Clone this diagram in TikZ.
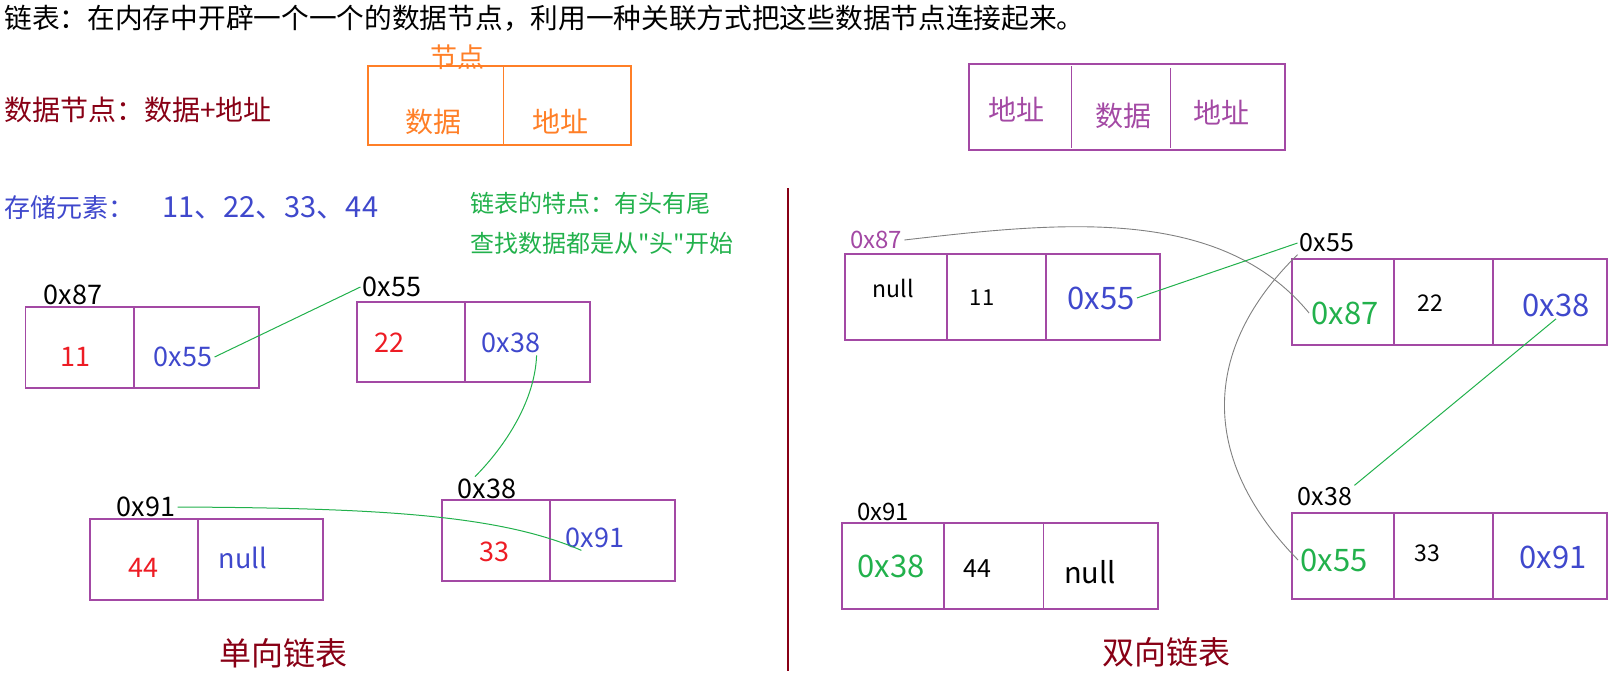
\documentclass[tikz,border=0pt]{standalone}
\usepackage{fontspec}
\setmainfont{Noto Sans CJK SC}[Ligatures=TeXOff]
\usepackage{tikz}
\usetikzlibrary{calc}
\usepackage{xcolor}
\definecolor{mspurple}{RGB}{163,73,164}
\definecolor{msorange}{RGB}{255,127,39}
\definecolor{msred}{RGB}{237,28,36}
\definecolor{msgreen}{RGB}{34,177,76}
\definecolor{msblue}{RGB}{63,72,204}
\definecolor{msdark}{RGB}{136,0,21}
\definecolor{msgray}{RGB}{128,128,128}

\begin{document}
\begin{tikzpicture}[x=0.5pt,y=-0.5pt,
    fs/.style={font=\fontsize{#1}{#1}\selectfont},
    cell/.style={draw=mspurple,line width=0.6pt},
    link/.style={msgreen,line width=0.5pt},
    backlink/.style={msgray,line width=0.45pt},
    lbl/.style={inner sep=1pt}]
    \useasboundingbox (0,0) rectangle (1613,675);
    % headline and legend
    \node[anchor=west,inner sep=0,fs=13.85] (title) at (4,18) {链表：在内存中开辟一个一个的数据节点，利用一种关联方式把这些数据节点连接起来。};
    \node[anchor=west,inner sep=0,fs=14,msdark] (def) at (4,110) {数据节点：数据+地址};
    \draw[msorange,line width=0.6pt] (368,66) rectangle (631,145) (503.6,66) -- (503.6,145);
    \node[msorange,fs=13.5] (nodename) at (457,57) {节点};
    \node[msorange,fs=14] (odata) at (433,122) {数据};
    \node[msorange,fs=14] (oaddr) at (560,122) {地址};
    \draw[cell] (969,64) rectangle (1285,150) (1071.5,66) -- (1071.5,148) (1170.5,68) -- (1170.5,148);
    \node[mspurple,fs=14] (pprev) at (1016,110) {地址};
    \node[mspurple,fs=14] (pdata) at (1123,116) {数据};
    \node[mspurple,fs=14] (pnext) at (1221,113) {地址};
    \node[anchor=west,inner sep=0,fs=13,msblue] (elems) at (4,208) {存储元素：\hspace{14pt}{\fontsize{14.5}{14.5}\selectfont 11、22、33、44}};
    \node[anchor=west,inner sep=0,fs=12,msgreen] (note1) at (470,203) {链表的特点：有头有尾};
    \node[anchor=west,inner sep=0,fs=12,msgreen] (note2) at (470,243) {查找数据都是从"头"开始};
    \draw[msdark,line width=0.75pt] (788,188) -- (788,671);

    % singly linked list
    \draw[cell] (25.5,307) rectangle (259,388) (134,307) -- (134,388);
    \node[lbl,fs=13.5,msred] (a-val) at (75,357) {11};
    \node[lbl,fs=13.5,msblue] (a-next) at (183,357) {0x55};
    \node[lbl,fs=13.5] (a-addr) at (73,295) {0x87};
    \draw[cell] (357,302) rectangle (590,382) (465,302) -- (465,382);
    \node[lbl,fs=13.5,msred] (b-val) at (389,343) {22};
    \node[lbl,fs=13.5,msblue] (b-next) at (511,343) {0x38};
    \node[lbl,fs=13.5] (b-addr) at (392,287) {0x55};
    \draw[cell] (442,500) rectangle (675,581) (550,500) -- (550,581);
    \node[lbl,fs=13.5,msred] (c-val) at (494,552) {33};
    \node[lbl,fs=13.5,msblue] (c-next) at (595,538) {0x91};
    \node[lbl,fs=13.5] (c-addr) at (487,489) {0x38};
    \draw[cell] (90,519) rectangle (323,600) (198,519) -- (198,600);
    \node[lbl,fs=13.5,msred] (d-val) at (143,568) {44};
    \node[lbl,fs=13.5,msblue] (d-next) at (243,558) {null};
    \node[lbl,fs=13.5] (d-addr) at (146,507) {0x91};
    \node[fs=16,msdark] (single) at (283,653) {单向链表};
    \draw[link] (a-next.east) -- (b-addr.west);
    \draw[link] ([xshift=-3pt]b-next.south east) .. controls +(-2,50) and +(25,-25) .. ([xshift=-6pt]c-addr.north);
    \draw[link] (d-addr.east) .. controls (380,508) and (500,515) .. ([xshift=9pt]c-next.south west);

    % doubly linked list
    \draw[cell] (845,254) rectangle (1160,340) (947,254) -- (947,340) (1046,254) -- (1046,340);
    \node[lbl,fs=11.5] (e-prev) at (893,288) {null};
    \node[lbl,fs=11] (e-val) at (982,298) {11};
    \node[lbl,fs=15.5,msblue] (e-next) at (1101,298) {0x55};
    \node[lbl,fs=12,mspurple] (e-addr) at (876,240) {0x87};
    \draw[cell] (1292,259) rectangle (1607,345) (1394,259) -- (1394,345) (1493,259) -- (1493,345);
    \node[lbl,fs=15.5,msgreen] (f-prev) at (1345,313) {0x87};
    \node[lbl,fs=11.5] (f-val) at (1430,303) {22};
    \node[lbl,fs=15.5,msblue] (f-next) at (1556,305) {0x38};
    \node[lbl,fs=12.5] (f-addr) at (1327,243) {0x55};
    \draw[cell] (1292,513) rectangle (1607,599) (1394,513) -- (1394,599) (1493,513) -- (1493,599);
    \node[lbl,fs=15.5,msgreen] (g-prev) at (1334,560) {0x55};
    \node[lbl,fs=11.5] (g-val) at (1427,553) {33};
    \node[lbl,fs=15.5,msblue] (g-next) at (1553,557) {0x91};
    \node[lbl,fs=12.5] (g-addr) at (1325,497) {0x38};
    \draw[cell] (842,523) rectangle (1158,609) (944,523) -- (944,609) (1043.5,523) -- (1043.5,609);
    \node[lbl,fs=15.5,msgreen] (h-prev) at (891,566) {0x38};
    \node[lbl,fs=12.5] (h-val) at (977,569) {44};
    \node[lbl,fs=14.5] (h-next) at (1090,572) {null};
    \node[lbl,fs=12] (h-addr) at (883,512) {0x91};
    \node[fs=16,msdark] (double) at (1166,652) {双向链表};
    \draw[backlink] (e-addr.east) .. controls (1060,222) and (1220,205) .. (f-prev.west);
    \draw[link] (e-next.east) -- (f-addr.west);
    \draw[backlink] (f-addr.south west) .. controls (1200,350) and (1200,460) .. (g-prev.west);
    \draw[link] (f-next.south) -- (g-addr.north east);
\end{tikzpicture}
\end{document}
